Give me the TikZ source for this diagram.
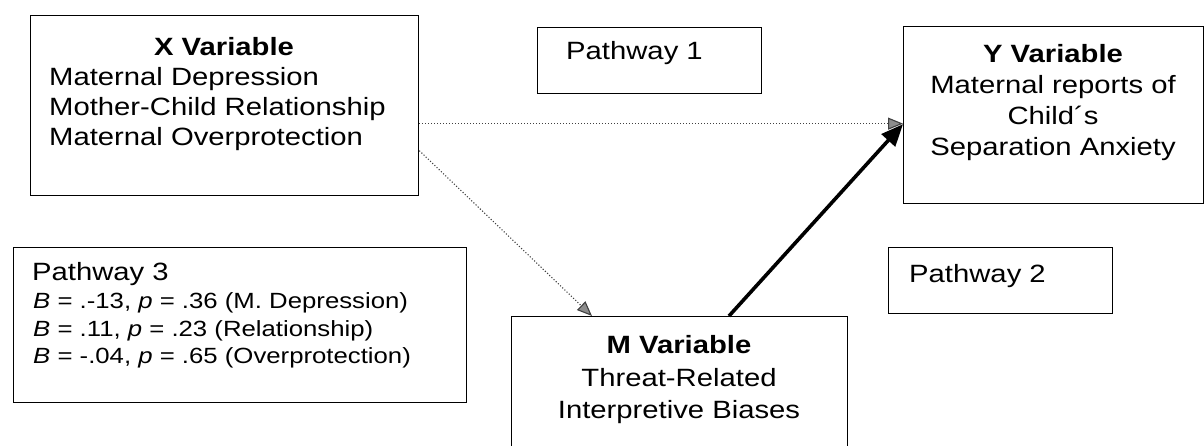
\documentclass[tikz,border=0pt]{standalone}
\usepackage{fontspec}
\setmainfont[FakeStretch=1.17]{Liberation Sans}
\usetikzlibrary{arrows.meta}
\begin{document}
\begin{tikzpicture}[x=1pt,y=-1pt,
  box/.style={draw, line width=1.3pt, anchor=north west, inner sep=0pt},
  lbl/.style={inner sep=0pt, font=\fontsize{25}{30}\selectfont},
  ttl/.style={inner sep=0pt, anchor=base, font=\fontsize{25}{30}\selectfont\bfseries},
  small/.style={inner sep=0pt, anchor=base west, font=\fontsize{22}{27}\selectfont},
  dotline/.style={line width=1.1pt, dash pattern=on 1.1pt off 1.9pt, draw=black!75},
  thin tip/.style={-{Triangle[length=15pt,width=12pt,fill=black!45]}},
  thick tip/.style={line width=3.6pt, -{Triangle[length=22pt,width=18pt]}}]
\useasboundingbox (0,0) rectangle (1204,446);
\clip (0,0) rectangle (1204,446);

% boxes
\node[box, minimum width=388pt, minimum height=180pt] (xbox) at (30,15) {};
\node[box, minimum width=300pt, minimum height=177pt] (ybox) at (903,26) {};
\node[box, minimum width=224pt, minimum height=66pt] (p1box) at (537,27) {};
\node[box, minimum width=224pt, minimum height=66pt] (p2box) at (888,247) {};
\node[box, minimum width=453pt, minimum height=155pt] (p3box) at (13,247) {};
\node[box, minimum width=336pt, minimum height=150pt] (mbox) at (511,316) {};

% X variable
\node[ttl] (xtitle) at (224,56) {X Variable};
\node[lbl, anchor=base west] (x1) at (49,86) {Maternal Depression};
\node[lbl, anchor=base west] (x2) at (49,116) {Mother-Child Relationship};
\node[lbl, anchor=base west] (x3) at (49,146) {Maternal Overprotection};

% Y variable
\node[ttl] (ytitle) at (1053,63) {Y Variable};
\node[lbl, anchor=base] (y1) at (1053,94) {Maternal reports of};
\node[lbl, anchor=base] (y2) at (1053,125) {Child´s};
\node[lbl, anchor=base] (y3) at (1053,156) {Separation Anxiety};

% M variable
\node[ttl] (mtitle) at (679,353) {M Variable};
\node[lbl, anchor=base] (m1) at (679,386) {Threat-Related};
\node[lbl, anchor=base] (m2) at (679,418) {Interpretive Biases};

% pathway labels
\node[lbl, anchor=base west] (p1) at (566,60) {Pathway 1};
\node[lbl, anchor=base west] (p2) at (909,283) {Pathway 2};
\node[lbl, anchor=base west] (p3) at (32,280) {Pathway 3};
\node[small] (p3a) at (33,308) {\textit{B} = .-13, \textit{p} = .36 (M. Depression)};
\node[small] (p3b) at (33,336) {\textit{B} = .11, \textit{p} = .23 (Relationship)};
\node[small] (p3c) at (33,363) {\textit{B} = -.04, \textit{p} = .65 (Overprotection)};

% connectors
\draw[dotline, thin tip] ([yshift=-18pt]xbox.east) -- ([yshift=-18pt]xbox.east -| ybox.west);
\draw[dotline, thin tip] ([yshift=-45pt]xbox.east) -- ([xshift=81pt]mbox.north west);
\draw[thick tip] ([xshift=218pt]mbox.north west) -- ([yshift=-9pt]ybox.west);
\end{tikzpicture}
\end{document}
